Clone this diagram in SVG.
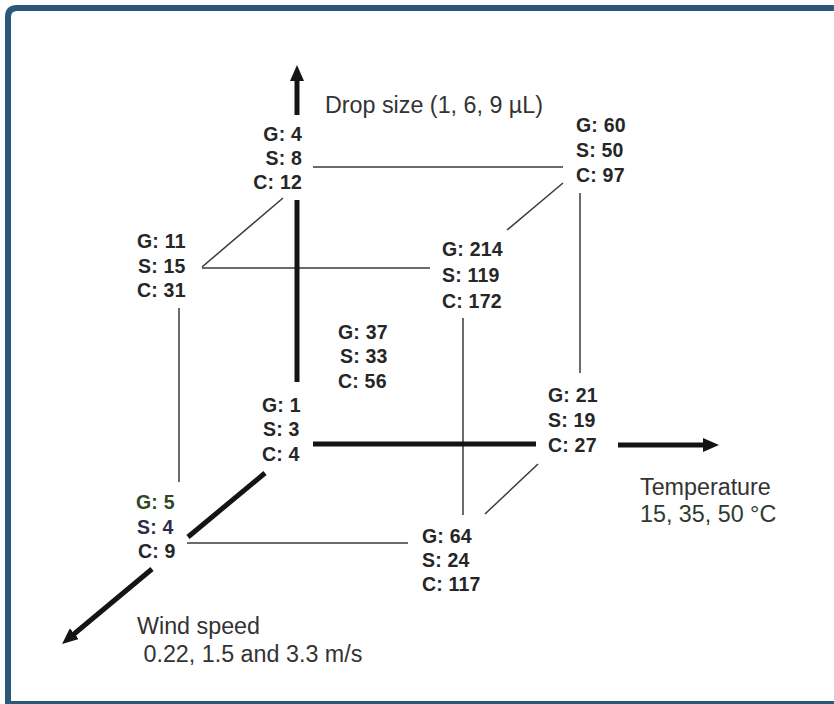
<svg xmlns="http://www.w3.org/2000/svg" width="834" height="704" viewBox="0 0 834 704">
<style>
.v{font-family:"Liberation Sans",Arial,sans-serif;font-weight:bold;font-size:19.5px;letter-spacing:0.2px;fill:#262626}
.ax{font-family:"Liberation Sans",Arial,sans-serif;font-size:23.3px;fill:#333}
.thin{stroke:#3a3a3a;stroke-width:1.5;fill:none}
.thick{stroke:#141414;stroke-width:5;fill:none}
.frame{stroke:#2b5879;fill:none}
</style>
<defs>
<marker id="ah" markerUnits="userSpaceOnUse" markerWidth="16" markerHeight="14" refX="2" refY="7" orient="auto">
<path d="M0,0 L16,7 L0,14 z" fill="#141414"/>
</marker>
</defs>
<rect x="0" y="0" width="834" height="704" fill="#fff"/>
<g id="frame">
<path class="frame" stroke-width="6" d="M8,704 V17 Q8,8 17,8 H840"/>
<line class="frame" stroke-width="3" x1="5" y1="702.5" x2="834" y2="702.5"/>
</g>
<g id="connectors">
<line class="thin" x1="313" y1="167" x2="563" y2="167"/>
<line class="thin" x1="563" y1="183" x2="507" y2="230"/>
<line class="thin" x1="580" y1="193" x2="580" y2="373"/>
<line class="thin" x1="283" y1="198" x2="202" y2="267"/>
<line class="thin" x1="202" y1="268" x2="430" y2="268"/>
<line class="thin" x1="179" y1="308" x2="179" y2="482"/>
<line class="thin" x1="463" y1="318" x2="463" y2="515"/>
<line class="thin" x1="187" y1="543" x2="408" y2="543"/>
<line class="thin" x1="538" y1="464" x2="485" y2="514"/>
<line class="thick" x1="297" y1="200" x2="297" y2="382"/>
<line class="thick" x1="313" y1="444" x2="536" y2="444"/>
<line class="thick" x1="265" y1="473" x2="188" y2="537"/>
<line class="thick" x1="297" y1="115" x2="297" y2="79" marker-end="url(#ah)"/>
<line class="thick" x1="618" y1="445" x2="705" y2="445" marker-end="url(#ah)"/>
<line class="thick" x1="152" y1="569" x2="72.8" y2="635" marker-end="url(#ah)"/>
</g>
<g id="axis-drop"><text class="ax" x="325" y="113">Drop size (1, 6, 9 µL)</text></g>
<g id="axis-temp"><text class="ax" x="640" y="495">Temperature</text><text class="ax" x="640" y="522" style="fill:#2f3b2f">15, 35, 50 °C</text></g>
<g id="axis-wind"><text class="ax" x="137" y="634">Wind speed</text><text class="ax" x="137" y="662" xml:space="preserve"> 0.22, 1.5 and 3.3 m/s</text></g>
<g id="n-tbl" class="v" text-anchor="end"><text x="302" y="141">G: 4</text><text x="302" y="165">S: 8</text><text x="302" y="189">C: 12</text></g>
<g id="n-tbr" class="v"><text x="576" y="132">G: 60</text><text x="576" y="157">S: 50</text><text x="576" y="182">C: 97</text></g>
<g id="n-tfl" class="v"><text x="137" y="248">G: 11</text><text x="138" y="273">S: 15</text><text x="137" y="297">C: 31</text></g>
<g id="n-tfr" class="v"><text x="442" y="256">G: 214</text><text x="442" y="282">S: 119</text><text x="442" y="308">C: 172</text></g>
<g id="n-mid" class="v"><text x="338" y="339">G: 37</text><text x="340" y="363">S: 33</text><text x="338" y="388">C: 56</text></g>
<g id="n-bbl" class="v"><text x="262" y="412">G: 1</text><text x="263" y="436">S: 3</text><text x="262" y="461">C: 4</text></g>
<g id="n-bbr" class="v"><text x="548" y="402">G: 21</text><text x="548" y="427">S: 19</text><text x="548" y="452">C: 27</text></g>
<g id="n-bfl" class="v"><text x="136" y="509" style="fill:#2d4a22">G: 5</text><text x="137" y="534" style="fill:#2a2d4a">S: 4</text><text x="138" y="558">C: 9</text></g>
<g id="n-bfr" class="v"><text x="422" y="543">G: 64</text><text x="422" y="567">S: 24</text><text x="422" y="591">C: 117</text></g>
</svg>
